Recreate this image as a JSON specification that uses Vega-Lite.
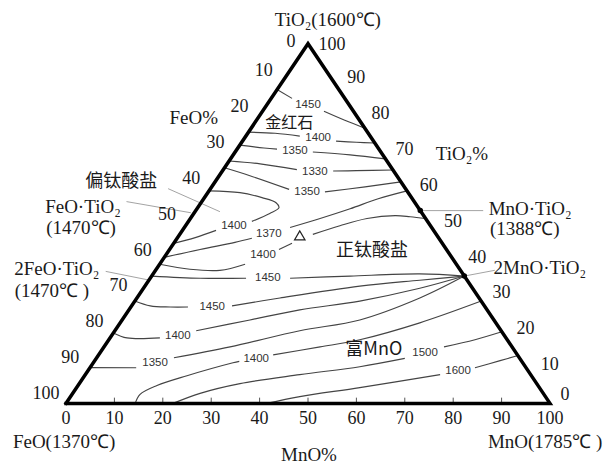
{
  "$schema": "https://vega.github.io/schema/vega-lite/v6.json",
  "width": 604,
  "height": 466,
  "padding": 0,
  "autosize": {"type": "fit", "contains": "padding"},
  "background": "white",
  "config": {"view": {"stroke": null}},
  "datasets": {
    "contours": [
      {"l":"A1","i":0,"x":43.6,"y":87.3},{"l":"A1","i":1,"x":46.7,"y":84.8},
      {"l":"A2","i":0,"x":53.3,"y":81.2},{"l":"A2","i":1,"x":57.6,"y":78.7},{"l":"A2","i":2,"x":61.75,"y":76.5},
      {"l":"B1","i":0,"x":37.7,"y":75.4},{"l":"B1","i":1,"x":43.2,"y":75.1},{"l":"B1","i":2,"x":48.3,"y":74.3},
      {"l":"B2","i":0,"x":55.8,"y":72.9},{"l":"B2","i":1,"x":60,"y":72.6},{"l":"B2","i":2,"x":63.8,"y":72.4},
      {"l":"C1","i":0,"x":35.9,"y":71.8},{"l":"C1","i":1,"x":40.9,"y":71.0},{"l":"C1","i":2,"x":43.6,"y":70.7},
      {"l":"C2","i":0,"x":51.0,"y":69.9},{"l":"C2","i":1,"x":58.7,"y":69.1},{"l":"C2","i":2,"x":66.0,"y":68.0},
      {"l":"D1","i":0,"x":33.7,"y":67.4},{"l":"D1","i":1,"x":40.1,"y":66.6},{"l":"D1","i":2,"x":47.7,"y":65.0},
      {"l":"D2","i":0,"x":55.2,"y":64.6},{"l":"D2","i":1,"x":60,"y":64.7},{"l":"D2","i":2,"x":67.55,"y":64.9},
      {"l":"E1","i":0,"x":32.75,"y":65.5},{"l":"E1","i":1,"x":38.0,"y":63.3},{"l":"E1","i":2,"x":46.1,"y":59.5},
      {"l":"E2","i":0,"x":53.5,"y":58.8},{"l":"E2","i":1,"x":61.8,"y":60.2},{"l":"E2","i":2,"x":69.2,"y":61.6},
      {"l":"F1","i":0,"x":29.55,"y":59.1},{"l":"F1","i":1,"x":35.95,"y":58.6},{"l":"F1","i":2,"x":40.5,"y":57.2},{"l":"F1","i":3,"x":43.4,"y":55.8},{"l":"F1","i":4,"x":44.0,"y":54.4},{"l":"F1","i":5,"x":42.1,"y":52.8},{"l":"F1","i":6,"x":38.4,"y":50.6},
      {"l":"F2","i":0,"x":31.0,"y":48.1},{"l":"F2","i":1,"x":26.7,"y":46.1},{"l":"F2","i":2,"x":22.25,"y":44.5},
      {"l":"G1","i":0,"x":20.3,"y":40.6},{"l":"G1","i":1,"x":27.7,"y":42.8},{"l":"G1","i":2,"x":34.9,"y":44.75},{"l":"G1","i":3,"x":38.4,"y":45.9},
      {"l":"G2","i":0,"x":46.3,"y":48.9},{"l":"G2","i":1,"x":52.5,"y":51.4},{"l":"G2","i":2,"x":58.7,"y":54.1},{"l":"G2","i":3,"x":64.5,"y":56.9},{"l":"G2","i":4,"x":70.45,"y":59.1},
      {"l":"H1","i":0,"x":19.35,"y":38.7},{"l":"H1","i":1,"x":25.6,"y":37.3},{"l":"H1","i":2,"x":31.8,"y":37.0},{"l":"H1","i":3,"x":37.0,"y":38.7},
      {"l":"H2","i":0,"x":44.0,"y":42.8},{"l":"H2","i":1,"x":46.7,"y":44.5},
      {"l":"H3","i":0,"x":51.0,"y":47.0},{"l":"H3","i":1,"x":56.6,"y":49.4},{"l":"H3","i":2,"x":62.2,"y":51.4},{"l":"H3","i":3,"x":68.0,"y":52.2},{"l":"H3","i":4,"x":71.1,"y":51.9},{"l":"H3","i":5,"x":74.3,"y":51.4},
      {"l":"I1","i":0,"x":17.7,"y":35.4},{"l":"I1","i":1,"x":27.7,"y":34.8},{"l":"I1","i":2,"x":37.2,"y":34.8},
      {"l":"I2","i":0,"x":46.3,"y":34.8},{"l":"I2","i":1,"x":58.7,"y":35.4},{"l":"I2","i":2,"x":73.1,"y":36.0},{"l":"I2","i":3,"x":82.3,"y":35.4},
      {"l":"J1","i":0,"x":14.2,"y":28.45},{"l":"J1","i":1,"x":17.4,"y":27.1},{"l":"J1","i":2,"x":21.5,"y":26.8},{"l":"J1","i":3,"x":25.2,"y":26.8},
      {"l":"J2","i":0,"x":34.3,"y":27.1},{"l":"J2","i":1,"x":44.2,"y":29.3},{"l":"J2","i":2,"x":60.7,"y":32.6},{"l":"J2","i":3,"x":73.1,"y":34.25},{"l":"J2","i":4,"x":82.3,"y":35.4},
      {"l":"K1","i":0,"x":9.8,"y":19.6},{"l":"K1","i":1,"x":12.6,"y":18.2},{"l":"K1","i":2,"x":19.4,"y":18.2},
      {"l":"K2","i":0,"x":26.9,"y":20.2},{"l":"K2","i":1,"x":38.0,"y":23.2},{"l":"K2","i":2,"x":48.3,"y":26.0},{"l":"K2","i":3,"x":60.7,"y":28.45},{"l":"K2","i":4,"x":73.1,"y":32.0},{"l":"K2","i":5,"x":82.3,"y":35.4},
      {"l":"L1","i":0,"x":4.97,"y":9.94},{"l":"L1","i":1,"x":14.5,"y":9.9},
      {"l":"L2","i":0,"x":22.3,"y":12.7},{"l":"L2","i":1,"x":33.9,"y":15.7},{"l":"L2","i":2,"x":48.3,"y":20.2},{"l":"L2","i":3,"x":60.7,"y":23.2},{"l":"L2","i":4,"x":73.1,"y":29.3},{"l":"L2","i":5,"x":82.3,"y":35.4},
      {"l":"M1","i":0,"x":14.3,"y":0},{"l":"M1","i":1,"x":15.3,"y":2.5},{"l":"M1","i":2,"x":18.8,"y":4.97},{"l":"M1","i":3,"x":25.0,"y":7.7},{"l":"M1","i":4,"x":34.5,"y":11.3},{"l":"M1","i":5,"x":35.8,"y":11.7},
      {"l":"M2","i":0,"x":42.8,"y":13.5},{"l":"M2","i":1,"x":52.5,"y":15.7},{"l":"M2","i":2,"x":60.7,"y":17.7},{"l":"M2","i":3,"x":73.1,"y":22.4},{"l":"M2","i":4,"x":85.8,"y":28.45},
      {"l":"N1","i":0,"x":22.1,"y":0},{"l":"N1","i":1,"x":27.7,"y":2.8},{"l":"N1","i":2,"x":35.95,"y":5.5},{"l":"N1","i":3,"x":48.3,"y":8.0},{"l":"N1","i":4,"x":60.7,"y":10.2},{"l":"N1","i":5,"x":70.0,"y":12.5},
      {"l":"N2","i":0,"x":78.1,"y":15.7},{"l":"N2","i":1,"x":84.5,"y":17.7},{"l":"N2","i":2,"x":90.05,"y":19.9},
      {"l":"O1","i":0,"x":41.5,"y":0},{"l":"O1","i":1,"x":48.3,"y":1.9},{"l":"O1","i":2,"x":60.7,"y":4.4},{"l":"O1","i":3,"x":77.3,"y":8.0},
      {"l":"O2","i":0,"x":84.5,"y":9.9},{"l":"O2","i":1,"x":89.7,"y":11.9},{"l":"O2","i":2,"x":93.4,"y":13.3}
    ],
    "leaders": [
      {"l":"P1","i":0,"x":21.1,"y":59.7},{"l":"P1","i":1,"x":31.8,"y":53.3},
      {"l":"P2","i":0,"x":12.5,"y":56.1},{"l":"P2","i":1,"x":25.8,"y":53.0},
      {"l":"P3","i":0,"x":8.2,"y":36.7},{"l":"P3","i":1,"x":17.1,"y":34.3},
      {"l":"P4","i":0,"x":73.2,"y":53.6},{"l":"P4","i":1,"x":86.2,"y":53.6},
      {"l":"P5","i":0,"x":82.3,"y":35.4},{"l":"P5","i":1,"x":88.6,"y":37.0}
    ],
    "triangle": [
      {"i":0,"x":0,"y":0},{"i":1,"x":100,"y":0},{"i":2,"x":50,"y":100},{"i":3,"x":0,"y":0}
    ],
    "dots": [{"x":73.2,"y":53.6},{"x":82.3,"y":35.4}],
    "marker": [{"x":48.3,"y":46.7}],
    "baseticks": [{"x":10,"y":0},{"x":20,"y":0},{"x":30,"y":0},{"x":40,"y":0},{"x":50,"y":0},{"x":60,"y":0},{"x":70,"y":0},{"x":80,"y":0},{"x":90,"y":0}],
    "clabels": [
      {"t":"1450","x":50.0,"y":82.9},{"t":"1400","x":52.1,"y":73.8},{"t":"1350","x":47.3,"y":70.2},
      {"t":"1330","x":51.4,"y":64.4},{"t":"1350","x":49.8,"y":58.8},{"t":"1400","x":34.7,"y":49.4},
      {"t":"1370","x":41.9,"y":47.0},{"t":"1400","x":40.7,"y":41.2},{"t":"1450","x":41.7,"y":34.8},
      {"t":"1450","x":30.2,"y":26.8},{"t":"1400","x":23.1,"y":18.8},{"t":"1350","x":18.4,"y":11.3},
      {"t":"1400","x":39.3,"y":12.4},{"t":"1500","x":74.2,"y":14.1},{"t":"1600","x":81.0,"y":9.1}
    ],
    "serif": [
      {"t":"TiO₂(1600℃)","x":54.1,"y":106.6},
      {"t":"FeO%","x":26.4,"y":79.3},
      {"t":"TiO₂%","x":81.8,"y":69.3},
      {"t":"FeO·TiO₂","x":3.5,"y":54.7},
      {"t":"(1470℃)","x":3.1,"y":48.9},
      {"t":"2FeO·TiO₂","x":-1.9,"y":37.3},
      {"t":"(1470℃ )","x":-2.9,"y":31.2},
      {"t":"MnO·TiO₂","x":95.9,"y":54.1},
      {"t":"(1388℃)","x":94.8,"y":48.6},
      {"t":"2MnO·TiO₂","x":97.9,"y":37.6},
      {"t":"FeO(1370℃)","x":-0.4,"y":-10.8},
      {"t":"MnO%","x":50.2,"y":-14.4},
      {"t":"MnO(1785℃ )","x":99.0,"y":-10.8}
    ],
    "cjk": [
      {"t":"偏钛酸盐","x":11.4,"y":61.6},
      {"t":"正钛酸盐","x":63.2,"y":42.5},
      {"t":"富MnO","x":63.6,"y":14.9}
    ],
    "cjksmall": [
      {"t":"金红石","x":46.1,"y":78.0}
    ],
    "lefttick": [
      {"t":"10","x":45,"y":90},{"t":"20","x":40,"y":80},{"t":"30","x":35,"y":70},
      {"t":"40","x":30,"y":60},{"t":"50","x":25,"y":50},{"t":"60","x":20,"y":40},{"t":"70","x":15,"y":30},
      {"t":"80","x":10,"y":20},{"t":"90","x":5,"y":10},{"t":"100","x":0,"y":0}
    ],
    "leftapex": [{"t":"0","x":50,"y":100}],
    "righttick": [
      {"t":"90","x":55,"y":90},{"t":"80","x":60,"y":80},{"t":"70","x":65,"y":70},
      {"t":"60","x":70,"y":60},{"t":"50","x":75,"y":50},{"t":"40","x":80,"y":40},{"t":"30","x":85,"y":30},
      {"t":"20","x":90,"y":20},{"t":"10","x":95,"y":10}
    ],
    "rightapex": [{"t":"100","x":50,"y":100}],
    "rightcorner": [{"t":"0","x":100,"y":0}],
    "bottomtick": [
      {"t":"0","x":0,"y":0},{"t":"10","x":10,"y":0},{"t":"20","x":20,"y":0},{"t":"30","x":30,"y":0},
      {"t":"40","x":40,"y":0},{"t":"50","x":50,"y":0},{"t":"60","x":60,"y":0},{"t":"70","x":70,"y":0},
      {"t":"80","x":80,"y":0},{"t":"90","x":90,"y":0},{"t":"100","x":100,"y":0}
    ]
  },
  "encoding": {
    "x": {"field": "x", "type": "quantitative", "scale": {"domain": [-13.64, 111.16], "nice": false, "zero": false}, "axis": null},
    "y": {"field": "y", "type": "quantitative", "scale": {"domain": [-16.57, 112.15], "nice": false, "zero": false}, "axis": null}
  },
  "layer": [
    {
      "data": {"name": "contours"},
      "mark": {"type": "line", "color": "#444444", "strokeWidth": 1.15, "interpolate": "catmull-rom"},
      "encoding": {"detail": {"field": "l"}, "order": {"field": "i", "type": "quantitative"}}
    },
    {
      "data": {"name": "leaders"},
      "mark": {"type": "line", "color": "#999999", "strokeWidth": 0.9},
      "encoding": {"detail": {"field": "l"}, "order": {"field": "i", "type": "quantitative"}}
    },
    {
      "data": {"name": "baseticks"},
      "mark": {"type": "rule", "color": "#555555", "strokeWidth": 1},
      "encoding": {"y2": {"datum": 1.6}}
    },
    {
      "data": {"name": "triangle"},
      "mark": {"type": "line", "color": "#000000", "strokeWidth": 3.5, "strokeJoin": "miter", "strokeCap": "square"},
      "encoding": {"order": {"field": "i", "type": "quantitative"}}
    },
    {
      "data": {"name": "dots"},
      "mark": {"type": "point", "shape": "circle", "filled": true, "color": "#000000", "size": 30, "opacity": 1}
    },
    {
      "data": {"name": "marker"},
      "mark": {"type": "point", "shape": "triangle-up", "filled": false, "color": "#222222", "strokeWidth": 1.2, "size": 110, "opacity": 1}
    },
    {
      "data": {"name": "clabels"},
      "mark": {"type": "text", "font": "Liberation Sans", "fontSize": 11.5, "color": "#333333", "align": "center", "baseline": "middle"},
      "encoding": {"text": {"field": "t"}}
    },
    {
      "data": {"name": "serif"},
      "mark": {"type": "text", "font": "Liberation Serif", "fontSize": 19, "color": "#1a1a1a", "align": "center", "baseline": "middle"},
      "encoding": {"text": {"field": "t"}}
    },
    {
      "data": {"name": "cjk"},
      "mark": {"type": "text", "font": "Noto Sans CJK SC", "fontSize": 18, "color": "#1a1a1a", "align": "center", "baseline": "middle"},
      "encoding": {"text": {"field": "t"}}
    },
    {
      "data": {"name": "cjksmall"},
      "mark": {"type": "text", "font": "Noto Sans CJK SC", "fontSize": 16, "color": "#1a1a1a", "align": "center", "baseline": "middle"},
      "encoding": {"text": {"field": "t"}}
    },
    {
      "data": {"name": "lefttick"},
      "mark": {"type": "text", "font": "Liberation Serif", "fontSize": 18, "color": "#1a1a1a", "align": "center", "baseline": "middle", "dx": -20, "dy": -9},
      "encoding": {"text": {"field": "t"}}
    },
    {
      "data": {"name": "leftapex"},
      "mark": {"type": "text", "font": "Liberation Serif", "fontSize": 18, "color": "#1a1a1a", "align": "center", "baseline": "middle", "dx": -17, "dy": -2},
      "encoding": {"text": {"field": "t"}}
    },
    {
      "data": {"name": "righttick"},
      "mark": {"type": "text", "font": "Liberation Serif", "fontSize": 18, "color": "#1a1a1a", "align": "center", "baseline": "middle", "dx": 24, "dy": -2},
      "encoding": {"text": {"field": "t"}}
    },
    {
      "data": {"name": "rightapex"},
      "mark": {"type": "text", "font": "Liberation Serif", "fontSize": 18, "color": "#1a1a1a", "align": "center", "baseline": "middle", "dx": 24, "dy": 1},
      "encoding": {"text": {"field": "t"}}
    },
    {
      "data": {"name": "rightcorner"},
      "mark": {"type": "text", "font": "Liberation Serif", "fontSize": 18, "color": "#1a1a1a", "align": "center", "baseline": "middle", "dx": 15, "dy": -8},
      "encoding": {"text": {"field": "t"}}
    },
    {
      "data": {"name": "bottomtick"},
      "mark": {"type": "text", "font": "Liberation Serif", "fontSize": 18, "color": "#1a1a1a", "align": "center", "baseline": "middle", "dy": 16},
      "encoding": {"text": {"field": "t"}}
    }
  ]
}
